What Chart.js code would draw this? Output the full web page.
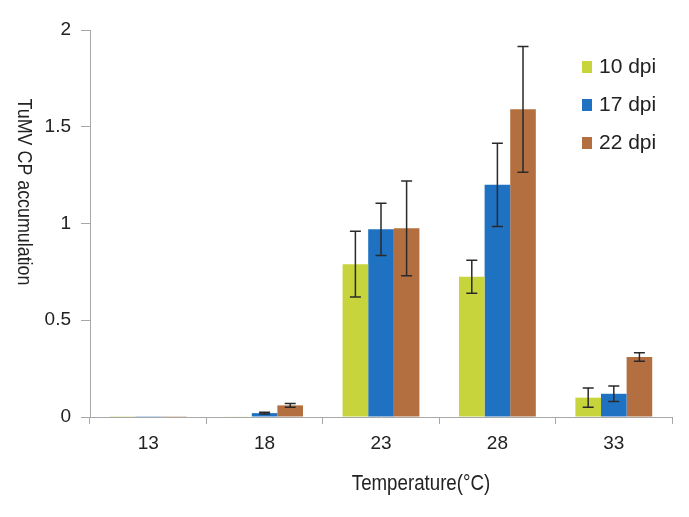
<!DOCTYPE html>
<html>
<head>
<meta charset="utf-8">
<script src="https://cdn.jsdelivr.net/npm/chart.js@4"></script>
<style>
  html, body { margin: 0; padding: 0; background: #fff; }
  #wrap { width: 689px; height: 517px; position: relative; }
</style>
</head>
<body>
<div id="wrap"><canvas id="chart"></canvas></div>
<script>
// TuMV CP accumulation by temperature, three sampling times
const temps = ['13', '18', '23', '28', '33'];
const seriesNames = ['10 dpi', '17 dpi', '22 dpi'];
const dpi10 = [0.004, 0.003, 0.79, 0.725, 0.10];
const dpi17 = [0.004, 0.02, 0.97, 1.20, 0.12];
const dpi22 = [0.004, 0.06, 0.975, 1.59, 0.31];
const err10 = [0, 0, 0.17, 0.085, 0.05];
const err17 = [0, 0.005, 0.135, 0.215, 0.04];
const err22 = [0, 0.01, 0.245, 0.325, 0.022];
const yTicks = [0, 0.5, 1, 1.5, 2];

const colors = ['#c8d43c', '#1f72c2', '#b36f3f'];
const FONT = '"Liberation Sans", Arial, sans-serif';

// error bars, side titles and the in-plot legend
const extras = {
    id: 'extras',
    afterDatasetsDraw(chart) {
        const ctx = chart.ctx;
        const y = chart.scales.y;
        ctx.save();
        ctx.strokeStyle = '#2a2a2a';
        ctx.lineWidth = 1.5;
        chart.data.datasets.forEach((ds, di) => {
            const meta = chart.getDatasetMeta(di);
            ds.errors.forEach((e, i) => {
                if (!e) return;
                const x = meta.data[i].x;
                const top = y.getPixelForValue(ds.data[i] + e);
                const bot = y.getPixelForValue(ds.data[i] - e);
                ctx.beginPath();
                ctx.moveTo(x, top); ctx.lineTo(x, bot);
                ctx.moveTo(x - 5.5, top); ctx.lineTo(x + 5.5, top);
                ctx.moveTo(x - 5.5, bot); ctx.lineTo(x + 5.5, bot);
                ctx.stroke();
            });
        });
        ctx.restore();
    },
    afterDraw(chart) {
        const ctx = chart.ctx;
        // axis titles, squeezed a little to look like the narrow face of the original
        ctx.save();
        ctx.fillStyle = '#222';
        ctx.textBaseline = 'middle';
        ctx.textAlign = 'center';
        ctx.translate(421, 484);
        ctx.scale(0.85, 1);
        ctx.font = '22px ' + FONT;
        ctx.fillText('Temperature(°C)', 0, 0);
        ctx.restore();

        ctx.save();
        ctx.fillStyle = '#222';
        ctx.textBaseline = 'middle';
        ctx.textAlign = 'center';
        ctx.translate(24, 192);
        ctx.rotate(Math.PI / 2);
        ctx.scale(0.85, 1);
        ctx.font = '21px ' + FONT;
        ctx.fillText('TuMV CP accumulation', 0, 0);
        ctx.restore();

        ctx.save();
        ctx.font = '21px ' + FONT;
        ctx.textBaseline = 'middle';
        ctx.textAlign = 'left';
        chart.data.datasets.forEach((ds, i) => {
            const cy = 67 + i * 38;
            ctx.fillStyle = ds.backgroundColor;
            ctx.fillRect(582, cy - 6, 10, 12);
            ctx.fillStyle = '#222';
            ctx.fillText(ds.label, 599, cy);
        });
        ctx.restore();
    }
};

const datasets = [dpi10, dpi17, dpi22].map((vals, i) => ({
    label: seriesNames[i],
    data: vals,
    errors: [err10, err17, err22][i],
    backgroundColor: colors[i],
    borderWidth: 0,
    barPercentage: 1,
    categoryPercentage: 0.66
}));

new Chart(document.getElementById('chart'), {
    type: 'bar',
    data: { labels: temps, datasets },
    options: {
        responsive: true,
        maintainAspectRatio: false,
        animation: false,
        layout: { padding: { top: 30, right: 17, left: 0, bottom: 0 } },
        plugins: { legend: { display: false }, tooltip: { enabled: false } },
        scales: {
            x: {
                grid: { display: true, drawOnChartArea: false, color: '#a8a8a8', tickLength: 7, offset: true },
                border: { color: '#a8a8a8' },
                ticks: { color: '#222', font: { family: FONT, size: 19 }, padding: 8 },
                afterFit(s) { s.height = 100; }
            },
            y: {
                min: 0, max: 2,
                afterBuildTicks(s) { s.ticks = yTicks.map(v => ({ value: v })); },
                grid: { display: true, drawOnChartArea: false, color: '#a8a8a8', tickLength: 9 },
                border: { color: '#a8a8a8' },
                ticks: { color: '#222', font: { family: FONT, size: 19 }, padding: 10, callback: v => String(v) },
                afterFit(s) { s.width = 90; }
            }
        }
    },
    plugins: [extras]
});
</script>
</body>
</html>
